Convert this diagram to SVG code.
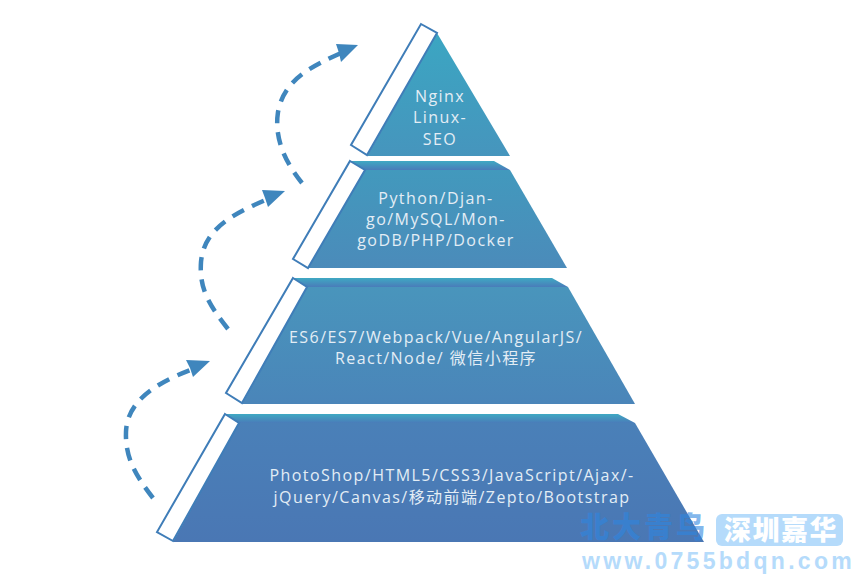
<svg xmlns="http://www.w3.org/2000/svg" width="861" height="577" viewBox="0 0 861 577">
<style>
.t{font-family:"Open Sans","Noto Sans CJK SC",sans-serif;font-size:16px;letter-spacing:1.45px;fill:#e3edf5;text-anchor:middle}
.strip{fill:#fff;stroke:#3f7db8;stroke-width:2;stroke-linejoin:miter}
.arc{fill:none;stroke:#3f86bd;stroke-width:4.5;stroke-dasharray:13 9}
.head{fill:#3f86bd}
.wm{font-family:"Noto Sans CJK SC",sans-serif;font-weight:900;font-size:29px;letter-spacing:3px}
</style>
<defs>
<linearGradient id="g1" x1="0" y1="0" x2="0" y2="1"><stop offset="0" stop-color="#3ba6c2"/><stop offset="1" stop-color="#4695bd"/></linearGradient>
<linearGradient id="g2" x1="0" y1="0" x2="0" y2="1"><stop offset="0" stop-color="#4299bd"/><stop offset="1" stop-color="#4b8bba"/></linearGradient>
<linearGradient id="g3" x1="0" y1="0" x2="0" y2="1"><stop offset="0" stop-color="#4995bc"/><stop offset="1" stop-color="#4a85b9"/></linearGradient>
<linearGradient id="g4" x1="0" y1="0" x2="0" y2="1"><stop offset="0" stop-color="#4a80b8"/><stop offset="1" stop-color="#4a77b4"/></linearGradient>
<linearGradient id="s" x1="0" y1="0" x2="0" y2="1"><stop offset="0" stop-color="#3fa9c3"/><stop offset="1" stop-color="#4a7cb9"/></linearGradient>
</defs>
<rect width="861" height="577" fill="#fff"/>
<g id="connectors">
<path class="arc" d="M153 498C136 476 125 458 126 432C127 404 150 385 193 369"/>
<path class="head" d="M210 361L186 360L190 368L193 377Z"/>
<path class="arc" d="M228 329C210 306 199 290 201 262C204 230 230 215 268 199"/>
<path class="head" d="M285 191L262 190L265 198L268 207Z"/>
<path class="arc" d="M302 183C285 162 274 138 278 112C284 80 310 67 341 53"/>
<path class="head" d="M358 45L336 44L339 53L341 62Z"/>
</g>
<g id="tier-top">
<polygon points="437,33 510,156 367,156" fill="url(#g1)"/>
<polygon class="strip" points="421,24 437,33 367,155 351,145"/>
<text class="t" x="440" y="102">Nginx</text>
<text class="t" x="440" y="123">Linux-</text>
<text class="t" x="440" y="145">SEO</text>
</g>
<g id="tier-2">
<polygon points="350,161 494,161 510,170 365,170" fill="url(#s)"/>
<polygon points="365,170 510,170 567,268 308,268" fill="url(#g2)"/>
<polygon class="strip" points="350,161 365,170 308,268 293,259"/>
<text class="t" x="436" y="204">Python/Djan-</text>
<text class="t" x="436" y="225">go/MySQL/Mon-</text>
<text class="t" x="436" y="246">goDB/PHP/Docker</text>
</g>
<g id="tier-3">
<polygon points="293,278 552,278 568,287 307,287" fill="url(#s)"/>
<polygon points="307,287 568,287 635,404 242,404" fill="url(#g3)"/>
<polygon class="strip" points="293,278 307,287 242,403 226,393"/>
<text class="t" x="436" y="343">ES6/ES7/Webpack/Vue/AngularJS/</text>
<text class="t" x="436" y="364">React/Node/ 微信小程序</text>
</g>
<g id="tier-4">
<polygon points="225,414 618,414 635,423 239,423" fill="url(#s)"/>
<polygon points="239,423 635,423 704,542 173,542" fill="url(#g4)"/>
<polygon class="strip" points="225,414 239,423 173,541 157,532"/>
<text class="t" x="452" y="481">PhotoShop/HTML5/CSS3/JavaScript/Ajax/-</text>
<text class="t" x="452" y="503">jQuery/Canvas/移动前端/Zepto/Bootstrap</text>
</g>
<g id="watermark">
<text class="wm" x="580" y="538" fill="#2f86e0" fill-opacity=".62">北大青鸟</text>
<rect x="716" y="514" width="127" height="32" rx="6" fill="#b5dbfb"/>
<text class="wm" x="724" y="540" fill="#fff" style="font-size:27px;letter-spacing:1.5px">深圳嘉华</text>
<text x="582" y="569" style="font-family:'Liberation Sans',sans-serif;font-weight:700;font-size:23px;letter-spacing:3.3px" fill="#b5dbfb">www.0755bdqn.com</text>
</g>
</svg>
